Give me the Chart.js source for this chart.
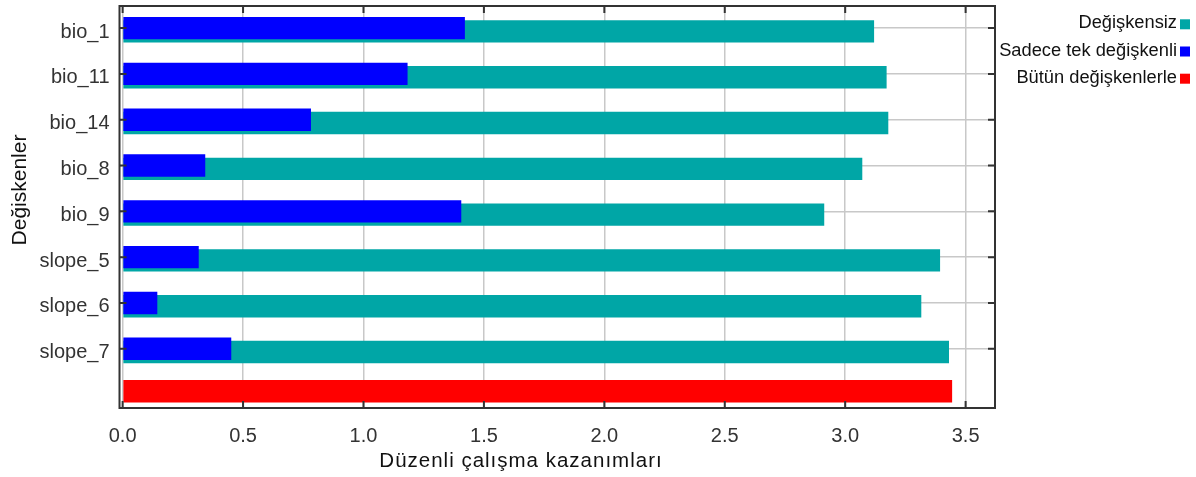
<!DOCTYPE html>
<html>
<head>
<meta charset="utf-8">
<script src="https://cdn.jsdelivr.net/npm/chart.js@4.4.1/dist/chart.umd.min.js"></script>
<style>
  html, body { margin: 0; padding: 0; background: #ffffff; }
  #wrap { width: 1196px; height: 477px; }
</style>
</head>
<body>
<div id="wrap"><canvas id="jackknife" width="1196" height="477"></canvas></div>
<script>
// Jackknife of regularized training gain per variable
const variables = ['bio_1', 'bio_11', 'bio_14', 'bio_8', 'bio_9', 'slope_5', 'slope_6', 'slope_7'];
const withoutVariable  = [3.120, 3.172, 3.179, 3.071, 2.913, 3.394, 3.316, 3.431];
const withOnlyVariable = [1.421, 1.183, 0.782, 0.343, 1.406, 0.316, 0.144, 0.451];
const withAllVariables = [3.444];
const xTickValues = [0, 0.5, 1, 1.5, 2, 2.5, 3, 3.5];
const seriesNames = ['Değişkensiz', 'Sadece tek değişkenli', 'Bütün değişkenlerle'];
const xAxisTitle = 'Düzenli çalışma kazanımları';
const yAxisTitle = 'Değiskenler';

const FONT = '"Liberation Sans", Arial, Helvetica, sans-serif';
const TEAL = '#00a6a6', BLUE = '#0000ff', RED = '#ff0000';
const GRID = '#c8c8c8', FRAME = '#333333';

// one row per variable; the all-variables bar sits on its own row below them
const rowPoints = (vals, firstRow = 0) => vals.map((v, i) => ({ x: v, y: firstRow + i }));

// plot frame with short inward tick marks on all four sides
const frameTicks = {
  id: 'frameTicks',
  afterDatasetsDraw(chart) {
    const { ctx, chartArea: a, scales: { x, y } } = chart;
    const len = 7;
    ctx.save();
    ctx.strokeStyle = FRAME;
    ctx.lineWidth = 2;
    ctx.strokeRect(a.left, a.top, a.right - a.left, a.bottom - a.top);
    ctx.beginPath();
    x.ticks.forEach((t, i) => {
      const px = x.getPixelForTick(i);
      ctx.moveTo(px, a.bottom); ctx.lineTo(px, a.bottom - len);
      ctx.moveTo(px, a.top);    ctx.lineTo(px, a.top + len);
    });
    y.ticks.forEach((t, i) => {
      const py = y.getPixelForTick(i);
      ctx.moveTo(a.left, py);  ctx.lineTo(a.left + len, py);
      ctx.moveTo(a.right, py); ctx.lineTo(a.right - len, py);
    });
    ctx.stroke();
    ctx.restore();
  }
};

// axis titles
const axisTitles = {
  id: 'axisTitles',
  afterDraw(chart, args, o) {
    const { ctx } = chart;
    ctx.save();
    ctx.fillStyle = '#111111';
    ctx.textAlign = 'center';
    ctx.textBaseline = 'alphabetic';
    ctx.font = `${o.xSize}px ${FONT}`;
    if ('letterSpacing' in ctx) ctx.letterSpacing = o.xSpacing + 'px';
    ctx.fillText(xAxisTitle, o.xCenter, o.xBaseline);
    if ('letterSpacing' in ctx) ctx.letterSpacing = '0px';
    ctx.font = `${o.ySize}px ${FONT}`;
    ctx.translate(o.yBaseline, o.yCenter);
    ctx.rotate(-Math.PI / 2);
    ctx.fillText(yAxisTitle, 0, 0);
    ctx.restore();
  }
};

// legend at the top right: label text followed by a small colour square
const sideLegend = {
  id: 'sideLegend',
  afterDraw(chart, args, o) {
    const { ctx } = chart;
    ctx.save();
    ctx.font = `${o.size}px ${FONT}`;
    ctx.textAlign = 'right';
    ctx.textBaseline = 'middle';
    seriesNames.forEach((name, i) => {
      const ds = chart.data.datasets.find(d => d.label === name);
      const cy = o.top + i * o.spacing;
      ctx.fillStyle = ds.backgroundColor;
      ctx.fillRect(o.right - o.box, cy - o.box / 2, o.box, o.box);
      ctx.fillStyle = '#111111';
      ctx.fillText(name, o.right - o.box - o.gap, cy - 1);
    });
    ctx.restore();
  }
};

Chart.defaults.font.family = FONT;

new Chart(document.getElementById('jackknife'), {
  type: 'bar',
  data: {
    datasets: [
      { label: seriesNames[2], data: rowPoints(withAllVariables, variables.length), backgroundColor: RED },
      { label: seriesNames[1], data: rowPoints(withOnlyVariable), backgroundColor: BLUE },
      { label: seriesNames[0], data: rowPoints(withoutVariable), backgroundColor: TEAL }
    ]
  },
  options: {
    indexAxis: 'y',
    responsive: false,
    animation: false,
    devicePixelRatio: 1,
    // narrow group slots with wide bars: the single-variable bar overlaps the
    // without-variable bar, shifted up by one slot
    categoryPercentage: 0.216,
    barPercentage: 6.79,
    borderWidth: 0,
    layout: { padding: { top: 6, right: 201, bottom: 0, left: 0 } },
    scales: {
      x: {
        type: 'linear',
        min: -0.013,
        max: 3.622,
        afterBuildTicks: (scale) => { scale.ticks = xTickValues.map(v => ({ value: v })); },
        afterFit: (scale) => {
          scale.height = 69;
          scale.paddingLeft = 0;
          scale.paddingRight = 0;
        },
        grid: { color: GRID, lineWidth: 1.5, drawTicks: false },
        border: { display: false },
        ticks: {
          autoSkip: false,
          maxRotation: 0,
          padding: 16,
          color: '#333333',
          font: { size: 20 },
          callback: (v) => Number(v).toFixed(1)
        }
      },
      y: {
        type: 'linear',
        reverse: true,
        offset: false,
        min: -0.483,
        max: 8.294,
        afterBuildTicks: (scale) => { scale.ticks = variables.map((_, i) => ({ value: i })); },
        afterFit: (scale) => {
          scale.width = 119.5;
          scale.paddingTop = 0;
          scale.paddingBottom = 0;
        },
        grid: { color: GRID, lineWidth: 1.5, drawTicks: false, offset: false },
        border: { display: false },
        ticks: {
          autoSkip: false,
          padding: 10,
          labelOffset: 4,
          color: '#333333',
          font: { size: 20 },
          callback: (v) => variables[v] ?? ''
        }
      }
    },
    plugins: {
      legend: { display: false },
      tooltip: { enabled: false },
      axisTitles: { xSize: 20.5, xSpacing: 1, xCenter: 521, xBaseline: 467, ySize: 21, yCenter: 190, yBaseline: 26 },
      sideLegend: { size: 18.3, right: 1190, box: 10, gap: 3, top: 24.3, spacing: 27.2 }
    }
  },
  plugins: [frameTicks, axisTitles, sideLegend]
});
</script>
</body>
</html>
